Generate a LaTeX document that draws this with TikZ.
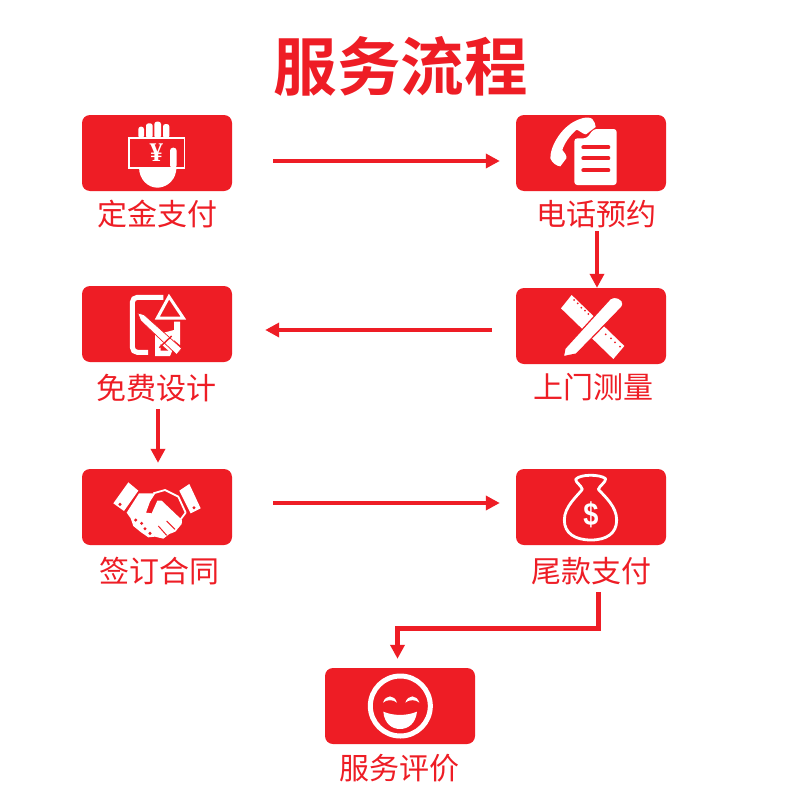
\documentclass[tikz,border=0pt]{standalone}
\usepackage{fontspec}
\setmainfont{Liberation Sans}
\newfontfamily\cjk{Noto Sans CJK SC}
\newfontfamily\cjkb{Noto Sans CJK SC Bold}
\newfontfamily\yenfont{Liberation Serif}
\usetikzlibrary{arrows.meta}
\definecolor{brandred}{RGB}{238,29,37}
\tikzset{
  box/.style={rectangle,rounded corners=8pt,fill=brandred,minimum width=150pt,minimum height=76pt,inner sep=0pt},
  lbl/.style={text=brandred,inner sep=0pt,font=\cjk\fontsize{30}{30}\selectfont},
  headline/.style={text=brandred,inner sep=0pt,font=\cjkb\fontsize{63.5}{64}\selectfont},
  flow/.style={draw=brandred,line width=4.6pt,-{Triangle[length=14pt,width=14pt]}},
  icon/.style 2 args={shift={(#1,#2)},x=0.33333pt,y=-0.33333pt},
  ws/.style={draw=white,line width=#1,fill=none,line cap=round,line join=round},
  ws/.default=2pt
}
\begin{document}
\begin{tikzpicture}[x=1pt,y=-1pt]
\useasboundingbox[fill=white] (0,0) rectangle (800,800);
\node[headline] (title) at (400.5,66) {服务流程};
\node[box] (b1) at (157,153) {};
\node[box] (b2) at (591,153) {};
\node[box] (b3) at (591,326) {};
\node[box] (b4) at (157,324) {};
\node[box] (b5) at (157,507) {};
\node[box] (b6) at (591,507) {};
\node[box] (b7) at (400,706) {};
\node[lbl] (c1) at (157,214) {定金支付};
\node[lbl] (c2) at (596,214) {电话预约};
\node[lbl] (c3) at (593,387) {上门测量};
\node[lbl] (c4) at (156,388) {免费设计};
\node[lbl] (c5) at (159,571) {签订合同};
\node[lbl] (c6) at (591,571) {尾款支付};
\node[lbl] (c7) at (399,768) {服务评价};
% connectors
\draw[flow] ([shift={(41,8)}]b1.east) -- ([shift={(-16,8)}]b2.west);
\draw[flow] ([shift={(1,3)}]c2.south) -- ([shift={(6,0)}]b3.north);
\draw[flow] ([shift={(-24,4)}]b3.west) -- ([shift={(33,6)}]b4.east);
\draw[flow] ([shift={(2,7)}]c4.south) -- ([shift={(1,-6)}]b5.north);
\draw[flow] ([shift={(41,-4)}]b5.east) -- ([shift={(-16,-4)}]b6.west);
\coordinate (elbow) at (500,628.5);
\draw[flow] ([shift={(7.5,7)}]c6.south) |- (elbow) -| ([shift={(-2.5,-9)}]b7.north);
% icon 1: hand with banknote
\begin{scope}[icon={70}{105}]
  \foreach \xa/\xb/\t in {205/222/65,228/248/55,253/273/50,279/298/57}
    \fill[white,rounded corners=2.5pt] (\xa,100) -- (\xa,\t) -- (\xb,\t) -- (\xb,100) -- cycle;
  \fill[white] (175,97) rectangle (346,191);
  \fill[brandred] (179,101) rectangle (342,187);
  \fill[white,rounded corners=3pt] (300,190) -- (300,128) -- (320,128) -- (320,190) -- cycle;
  \fill[white] (207,186) -- (320,186) -- (318,200) .. controls (312,232) and (285,248) .. (262,248) .. controls (235,248) and (207,225) .. (207,186) -- cycle;
  \node[text=white,inner sep=0pt,font=\yenfont\bfseries\fontsize{27}{27}\selectfont] (yen) at (259,144) {¥};
\end{scope}
% icon 2: phone and sheet
\begin{scope}[icon={505}{105}]
  \fill[white] (225,42) .. controls (240,36) and (255,36) .. (262,42) .. controls (268,50) and (272,58) .. (272,66)
     -- (243,88) .. controls (235,88) and (225,78) .. (215,74)
     .. controls (195,90) and (178,115) .. (172,135)
     .. controls (178,142) and (186,152) .. (184,160) -- (166,184)
     .. controls (155,184) and (140,172) .. (136,160)
     .. controls (135,125) and (170,60) .. (225,42) -- cycle;
  \fill[white,rounded corners=3pt] (208,240) -- (208,100) -- (245,100) -- (266,72) -- (335,72) -- (335,240) -- cycle;
  \foreach \y in {127,160,196}
    \draw[brandred,line width=4pt,line cap=round] (235,\y) -- (310,\y);
\end{scope}
% icon 3: frame, triangle, pencil
\begin{scope}[icon={70}{280}]
  \draw[white,line width=5pt,rounded corners=5pt] (280,52) -- (187,52) -- (187,217) -- (234,217);
  \draw[white,line width=3pt,line join=miter] (297,50) -- (340,114) -- (262,114) -- cycle;
  \fill[white] (312,125) -- (330,125) -- (330,195) -- (312,180) -- cycle;
  \fill[white] (255,165) -- (312,150) -- (312,200) -- (300,228) -- (255,228) -- cycle;
  \fill[white,draw=brandred,line width=.7pt] (203,99) -- (222,104) -- (335,205) -- (320,224) -- (212,122) -- cycle;
  \draw[brandred,line width=1.4pt] (268,203) -- (305,168);
  \fill[brandred] (272,212) -- (295,212) -- (272,192) -- cycle;
\end{scope}
% icon 4: ruler and pencil
\begin{scope}[icon={505}{280}]
  \fill[white] (200,45) -- (358,198) -- (325,237) -- (168,85) -- cycle;
  \foreach \px/\py in {207/60,218/70,229/83,240/92,250/102,302/163,318/175,330/187,345/200}
    \fill[brandred] (\px,\py) circle (3);
  \fill[white,draw=brandred,line width=1.2pt,line join=round] (316,56) .. controls (330,45) and (356,58) .. (354,72) .. controls (354,78) and (350,82) .. (346,86)
     -- (214,222) -- (175,230) -- (180,205) -- cycle;
\end{scope}
% icon 5: handshake
\begin{scope}[icon={70}{460}]
  \fill[white] (175,67) -- (205,92) -- (162,153) -- (130,130) -- cycle;
  \fill[white] (358,72) -- (392,145) -- (362,160) -- (328,92) -- cycle;
  \fill[brandred] (150,133) circle (5);
  \fill[brandred] (372,143) circle (5);
  \fill[white] (207,100) -- (256,100) -- (240,125) -- (228,158) -- (245,160) -- (262,122) -- (275,122) -- (336,180) -- (335,192) -- (316,215) -- (298,222) -- (280,236) -- (255,230) -- (235,232) -- (212,216) -- (190,198) -- (182,175) -- (170,158) -- cycle;
  \draw[white,line width=1.8pt,line join=round] (250,100) -- (285,90) -- (325,110) -- (347,158) -- (332,178);
  \foreach \px/\py in {197/180,215/190,225/206,240/220}
    \fill[brandred] (\px,\py) circle (5);
  \draw[brandred,line width=1pt] (290,183) -- (315,208);
  \draw[brandred,line width=1pt] (265,198) -- (290,226);
\end{scope}
% icon 6: money bag
\begin{scope}[icon={505}{460}]
  \draw[ws=2.8pt] (212,58) .. controls (225,42) and (285,42) .. (302,56) .. controls (302,68) and (285,75) .. (280,88)
     .. controls (300,110) and (335,140) .. (335,180) .. controls (335,220) and (305,240) .. (258,240)
     .. controls (210,240) and (178,220) .. (178,180) .. controls (178,140) and (215,110) .. (232,88)
     .. controls (228,75) and (212,68) .. (212,58) -- cycle;
  \node[text=white,inner sep=0pt,font=\bfseries\fontsize{32}{32}\selectfont,xscale=.85] (dollar) at (258,164) {\$};
\end{scope}
% icon 7: smile
\begin{scope}[icon={315}{660}]
  \draw[white,line width=5pt] (256,138) circle (90);
  \fill[white] (204,128) .. controls (212,103) and (238,103) .. (246,128) .. controls (236,118) and (214,118) .. (204,128) -- cycle;
  \fill[white] (271,128) .. controls (279,103) and (305,103) .. (313,128) .. controls (303,118) and (281,118) .. (271,128) -- cycle;
  \fill[white] (205,155) .. controls (235,168) and (275,168) .. (306,155) .. controls (302,190) and (280,207) .. (255,207) .. controls (230,207) and (208,190) .. (205,155) -- cycle;
\end{scope}
\end{tikzpicture}
\end{document}
